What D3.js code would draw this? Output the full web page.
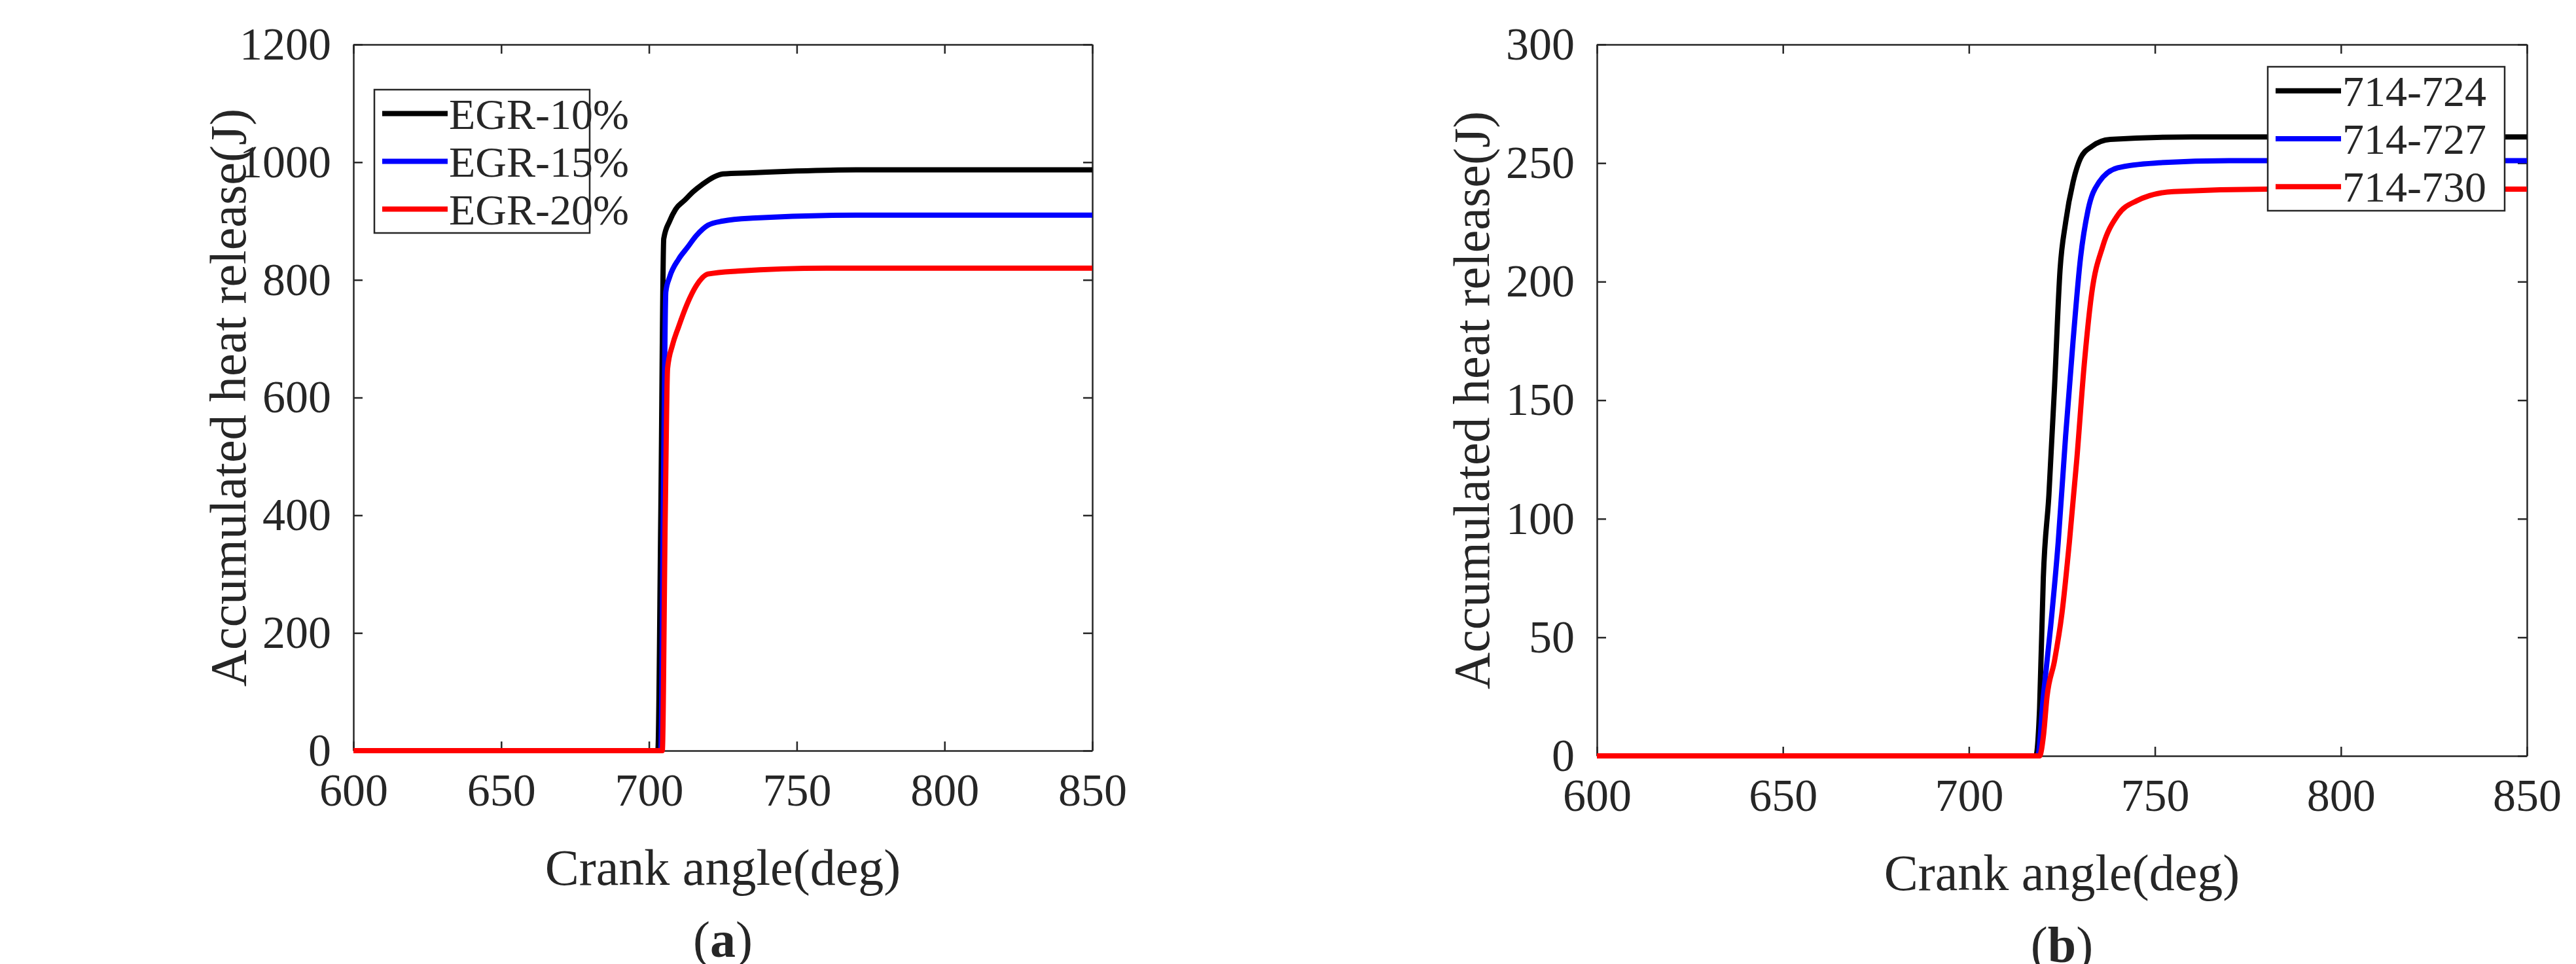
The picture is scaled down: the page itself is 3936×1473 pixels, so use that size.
<!DOCTYPE html>
<html><head><meta charset="utf-8">
<script src="https://cdn.jsdelivr.net/npm/d3@7"></script>
<style>body{margin:0;background:#fff}text{font-family:"Liberation Serif","Times New Roman",serif;fill:#262626}</style>
</head><body>
<svg id="chart" width="3936" height="1473"></svg>
<script>
const xTicks = [600, 650, 700, 750, 800, 850];
const yTicksA = [0, 200, 400, 600, 800, 1000, 1200];
const yTicksB = [0, 50, 100, 150, 200, 250, 300];
const namesA = ['EGR-10%', 'EGR-15%', 'EGR-20%'];
const namesB = ['714-724', '714-727', '714-730'];
const colors = ['#000000', '#0000ff', '#ff0000'];

const egr10 = [[600,0],[703,0],[704,400],[705,870],[707,900],[709,920],[712,935],[715,950],[718,962],[722,975],[725,980],[735,982],[750,985],[770,987],[850,987]];
const egr15 = [[600,0],[704,0],[705,500],[705.7,780],[707,805],[710,835],[713,855],[716,875],[720,893],[725,900],[735,905],[770,910],[850,910]];
const egr20 = [[600,0],[704.5,0],[705.5,400],[706.3,650],[708,690],[710,720],[713,760],[716,790],[720,810],[730,815],[760,820],[850,820]];
const s724 = [[600,0],[718,0],[719,20],[720,75],[721.5,110],[723,155],[724.5,205],[726,225],[728,242],[730,252],[733,257],[738,260],[760,261],[850,261]];
const s727 = [[600,0],[718.5,0],[720,25],[722,55],[724,90],[726,135],[728,175],[730,210],[732,230],[735,242],[740,248],[750,250],[770,251],[850,251]];
const s730 = [[600,0],[719,0],[720,8],[721,25],[723,40],[725,60],[727,90],[729,125],[731,165],[733,195],[736,215],[740,228],[745,234],[755,238],[780,239],[850,239]];

const svg = d3.select('#chart');

function panel(o) {
  const x = d3.scaleLinear().domain([600, 850]).range([o.x0, o.x1]);
  const y = d3.scaleLinear().domain([0, o.ymax]).range([o.y1, o.y0]);
  const g = svg.append('g');
  const tl = 14;
  g.append('g').attr('transform', `translate(0,${o.y1})`)
    .call(d3.axisBottom(x).tickValues(xTicks).tickSize(-tl).tickSizeOuter(0).tickPadding(34));
  g.append('g').attr('transform', `translate(0,${o.y0})`)
    .call(d3.axisTop(x).tickValues(xTicks).tickSize(-tl).tickSizeOuter(0).tickFormat(''));
  g.append('g').attr('transform', `translate(${o.x0},0)`)
    .call(d3.axisLeft(y).tickValues(o.yt).tickFormat(d3.format('d')).tickSize(-tl).tickSizeOuter(0).tickPadding(34));
  g.append('g').attr('transform', `translate(${o.x1},0)`)
    .call(d3.axisRight(y).tickValues(o.yt).tickSize(-tl).tickSizeOuter(0).tickFormat(''));
  g.selectAll('.domain').attr('stroke', '#262626').attr('stroke-width', 2.5);
  g.selectAll('.tick line').attr('stroke', '#262626').attr('stroke-width', 2.5);
  g.selectAll('.tick text').style('font-size', '70px').attr('fill', '#262626');

  const line = d3.line().x(d => x(d[0])).y(d => y(d[1])).curve(d3.curveMonotoneX);
  o.series.forEach((s, i) => {
    g.append('path').datum(s).attr('d', line).attr('fill', 'none')
      .attr('stroke', colors[i]).attr('stroke-width', 8).attr('stroke-linejoin', 'round');
  });

  g.append('text').attr('transform', `translate(${o.x0 - 165},${(o.y0 + o.y1) / 2}) rotate(-90)`)
    .attr('text-anchor', 'middle').style('font-size', '78px').text('Accumulated heat release(J)');
  g.append('text').attr('x', (o.x0 + o.x1) / 2).attr('y', o.y1 + 205)
    .attr('text-anchor', 'middle').style('font-size', '78px').text('Crank angle(deg)');
  const lab = g.append('text').attr('x', (o.x0 + o.x1) / 2).attr('y', o.y1 + 315)
    .attr('text-anchor', 'middle').style('font-size', '78px');
  lab.append('tspan').text('(');
  lab.append('tspan').attr('font-weight', 'bold').text(o.tag);
  lab.append('tspan').text(')');

  const L = o.legend;
  g.append('rect').attr('x', L.x).attr('y', L.y).attr('width', L.w).attr('height', L.h)
    .attr('fill', '#fff').attr('stroke', '#262626').attr('stroke-width', 2.5);
  o.names.forEach((n, i) => {
    const yy = L.y + L.h * (i + 0.5) / 3;
    g.append('line').attr('x1', L.x + 12).attr('x2', L.x + 112).attr('y1', yy).attr('y2', yy)
      .attr('stroke', colors[i]).attr('stroke-width', 8);
    g.append('text').attr('x', L.x + 114).attr('y', yy).attr('dy', '0.35em')
      .style('font-size', '66px').text(n);
  });
}

panel({x0: 540, x1: 1669, y0: 68, y1: 1147, ymax: 1200, yt: yTicksA, tag: 'a',
  series: [egr10, egr15, egr20], names: namesA, legend: {x: 572, y: 137, w: 329, h: 219}});
panel({x0: 2440, x1: 3861, y0: 68, y1: 1155, ymax: 300, yt: yTicksB, tag: 'b',
  series: [s724, s727, s730], names: namesB, legend: {x: 3465, y: 102, w: 362, h: 220}});
</script>
</body></html>
